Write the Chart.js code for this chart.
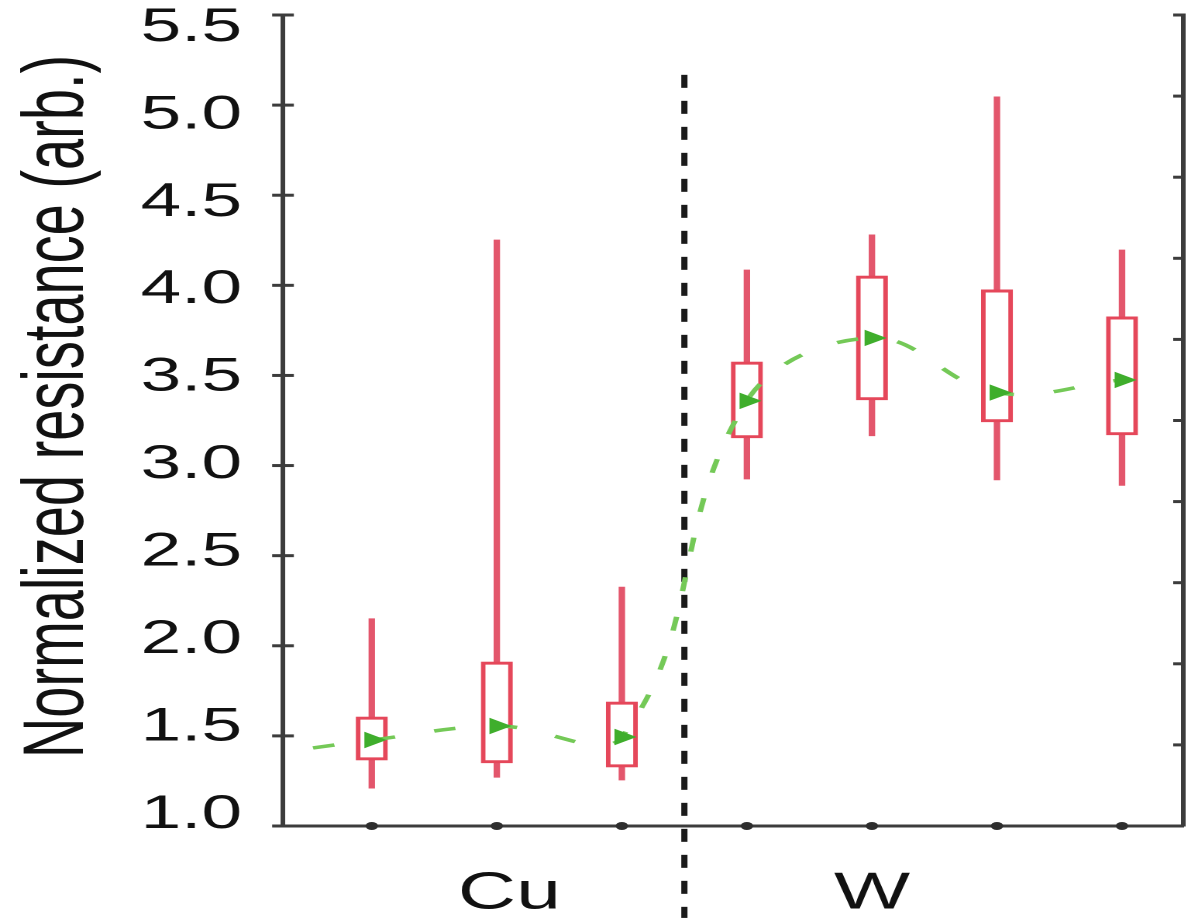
<!DOCTYPE html>
<html>
<head>
<meta charset="utf-8">
<script src="https://cdn.jsdelivr.net/npm/chart.js@4.4.1/dist/chart.umd.min.js"></script>
<style>
  html, body { margin: 0; padding: 0; background: #ffffff; overflow: hidden; }
  /* the source figure is stretched horizontally; reproduce that stretch */
  #wrap { position: absolute; left: 0; top: 0; width: 773px; height: 918px;
          transform-origin: 0 0; transform: scaleX(1.54981); }
</style>
</head>
<body>
<div id="wrap"><canvas id="c"></canvas></div>
<script>
// ---------------- data ----------------
const categories   = ['Cu', 'Cu', 'Cu', 'W', 'W', 'W', 'W'];
const xPositions   = [0, 1, 2, 3, 4, 5, 6];
const whiskerLow   = [1.21, 1.27, 1.255, 2.925, 3.165, 2.92, 2.89];
const boxLow       = [1.366, 1.35, 1.327, 3.153, 3.364, 3.242, 3.17];
const boxHigh      = [1.605, 1.91, 1.688, 3.575, 4.052, 3.975, 3.825];
const whiskerHigh  = [2.15, 4.252, 2.326, 4.085, 4.28, 5.046, 4.196];
const medianValues = [1.477, 1.555, 1.494, 3.359, 3.708, 3.405, 3.475];
const trendStartX  = -0.47;
const trendStartY  = 1.433;

const groupLabels    = ['Cu', 'W'];
const groupLabelPos  = [1.1, 4.0];
const yTickValues    = [1.0, 1.5, 2.0, 2.5, 3.0, 3.5, 4.0, 4.5, 5.0, 5.5];
const yTickLabels    = ['1.0', '1.5', '2.0', '2.5', '3.0', '3.5', '4.0', '4.5', '5.0', '5.5'];
const yTitleText     = 'Normalized resistance (arb.)';
const dividerX       = 2.5;
const dividerTop     = 5.168;
const dividerBottom  = 0.49;

// ---------------- style ----------------
const FONT = "'Liberation Sans', Arial, Helvetica, sans-serif";
const AXIS = '#3c3c3c';
const BOX_RED = '#e5475a';
const WHISKER_RED = '#e3566c';

const trendX = [trendStartX].concat(xPositions);
const trendY = [trendStartY].concat(medianValues);

const axisTicks = {
  id: 'axisTicks',
  afterDraw(chart) {
    const { ctx, chartArea, scales } = chart;
    ctx.save();
    ctx.strokeStyle = AXIS;
    ctx.lineWidth = 3;
    scales.y.ticks.forEach(t => {
      const py = scales.y.getPixelForValue(t.value);
      ctx.beginPath();
      ctx.moveTo(chartArea.left - 7, py);
      ctx.lineTo(chartArea.left + 7, py);
      ctx.stroke();
    });
    scales.y2.ticks.forEach(t => {
      const py = scales.y2.getPixelForValue(t.value);
      ctx.beginPath();
      ctx.moveTo(chartArea.right - 6.5, py);
      ctx.lineTo(chartArea.right, py);
      ctx.stroke();
    });
    ctx.restore();
  }
};

const yTitle = {
  id: 'yTitle',
  afterDraw(chart) {
    const ctx = chart.ctx;
    const ca = chart.chartArea;
    ctx.save();
    ctx.translate(53.5, (ca.top + ca.bottom) / 2 - 14);
    ctx.rotate(-Math.PI / 2);
    ctx.font = '56px ' + FONT;
    ctx.fillStyle = '#111111';
    ctx.textAlign = 'center';
    ctx.textBaseline = 'alphabetic';
    ctx.fillText(yTitleText, 0, 0);
    ctx.restore();
  }
};

new Chart(document.getElementById('c'), {
  type: 'bar',
  data: {
    datasets: [
      {
        type: 'line', label: 'divider',
        data: [{ x: dividerX, y: dividerTop }, { x: dividerX, y: dividerBottom }],
        borderColor: '#1a1a1a', borderWidth: 4, borderDash: [13, 13],
        pointRadius: 0, clip: false, order: 4, xAxisID: 'x', yAxisID: 'y'
      },
      {
        type: 'bar', label: 'range',
        data: xPositions.map((x, i) => ({ x: x, y: [whiskerLow[i], whiskerHigh[i]] })),
        backgroundColor: WHISKER_RED, borderWidth: 0, barThickness: 3.5,
        grouped: false, order: 3, xAxisID: 'x', yAxisID: 'y'
      },
      {
        type: 'bar', label: 'box',
        data: xPositions.map((x, i) => ({ x: x, y: [boxLow[i], boxHigh[i]] })),
        backgroundColor: '#ffffff', borderColor: BOX_RED, borderWidth: 3,
        borderSkipped: false, barThickness: 20,
        grouped: false, order: 2, xAxisID: 'x', yAxisID: 'y'
      },
      {
        type: 'line', label: 'median',
        data: trendX.map((x, i) => ({ x: x, y: trendY[i] })),
        borderColor: '#74c957', borderWidth: 3.5, borderDash: [14, 26], tension: 0.4,
        pointStyle: 'triangle', pointRotation: 90,
        pointRadius: ctx => (ctx.dataIndex === 0 ? 0 : 9.5),
        pointBackgroundColor: '#3fae2c', pointBorderWidth: 0,
        order: 1, xAxisID: 'x', yAxisID: 'y'
      },
      {
        type: 'scatter', label: 'xticks',
        data: xPositions.map(x => ({ x: x, y: 1.0 })),
        pointRadius: 4, backgroundColor: '#2e2e2e', borderWidth: 0,
        clip: false, order: 0, xAxisID: 'x', yAxisID: 'y'
      }
    ]
  },
  options: {
    responsive: true,
    maintainAspectRatio: false,
    devicePixelRatio: 2,
    animation: false,
    layout: { padding: { top: 15, left: 0, right: 2, bottom: 0 } },
    plugins: { legend: { display: false }, tooltip: { enabled: false }, title: { display: false } },
    scales: {
      x: {
        type: 'linear', min: -0.71, max: 6.49, offset: false, position: 'bottom',
        grid: { display: false, drawTicks: false },
        border: { display: true, color: AXIS, width: 3 },
        ticks: {
          font: { family: FONT, size: 52 }, color: '#111111', padding: 37,
          autoSkip: false, maxRotation: 0, minRotation: 0,
          callback: (v, i) => groupLabels[i]
        },
        afterBuildTicks: s => { s.ticks = groupLabelPos.map(v => ({ value: v })); },
        afterFit: s => { s.height = 92; s.paddingLeft = 0; s.paddingRight = 0; }
      },
      y: {
        type: 'linear', position: 'left', min: 1, max: 5.5, weight: 0,
        ticks: { display: false, stepSize: 0.5 },
        grid: { display: false, drawTicks: false },
        border: { display: true, color: AXIS, width: 3 },
        afterFit: s => { s.width = 7; s.paddingTop = 0; s.paddingBottom = 0; }
      },
      yl: {
        type: 'linear', position: 'left', min: 0.937, max: 5.574, weight: 1,
        grid: { display: false, drawTicks: false },
        border: { display: false },
        ticks: {
          font: { family: FONT, size: 47 }, color: '#111111', padding: 19.5,
          autoSkip: false,
          callback: (v, i) => yTickLabels[i]
        },
        afterBuildTicks: s => { s.ticks = yTickValues.map(v => ({ value: v })); },
        afterFit: s => { s.width = 175.6; s.paddingTop = 0; s.paddingBottom = 0; }
      },
      y2: {
        type: 'linear', position: 'right', min: 0, max: 10,
        ticks: { display: false, stepSize: 1 },
        grid: { display: false, drawTicks: false },
        border: { display: true, color: AXIS, width: 3 },
        afterFit: s => { s.width = 0; s.paddingTop = 0; s.paddingBottom = 0; }
      }
    }
  },
  plugins: [axisTicks, yTitle]
});
</script>
</body>
</html>
